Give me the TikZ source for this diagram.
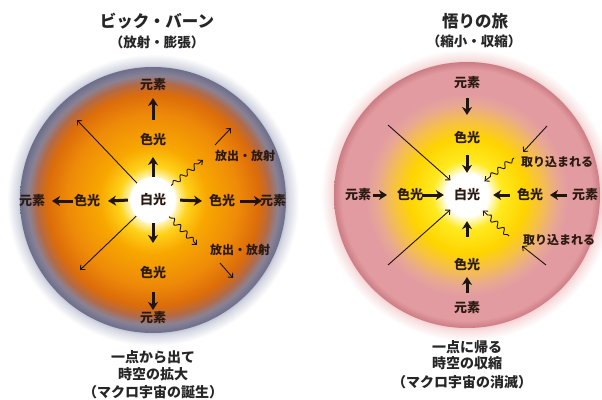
\documentclass[tikz,border=0pt]{standalone}
\usepackage{fontspec}
\usetikzlibrary{arrows.meta,calc,decorations.pathmorphing}
\newfontfamily\jp{Noto Sans CJK JP}
\definecolor{txt}{HTML}{2A1A12}
\definecolor{arrc}{HTML}{1E1410}
\definecolor{lyel}{HTML}{FFF0A0}
\definecolor{yel}{HTML}{FFD21A}
\definecolor{orgA}{HTML}{F8A800}
\definecolor{orgB}{HTML}{EE8A08}
\definecolor{orgC}{HTML}{DC6C0A}
\definecolor{brn}{HTML}{B26A48}
\definecolor{gbl}{HTML}{8A8294}
\definecolor{rimL}{HTML}{6C6E8C}
\definecolor{glowL}{HTML}{A4AAC0}
\definecolor{ryA}{HTML}{FFF8B8}
\definecolor{ryB}{HTML}{FFEA20}
\definecolor{ryC}{HTML}{FFD400}
\definecolor{rorg}{HTML}{F6C048}
\definecolor{rpk}{HTML}{E8A892}
\definecolor{pink}{HTML}{E29CA1}
\definecolor{rimR}{HTML}{CC7C84}
\definecolor{glowR}{HTML}{EEB8B8}
\pgfdeclareradialshading{bbshade}{\pgfpoint{0bp}{0bp}}{%
color(0bp)=(white); color(4bp)=(white); color(4.75bp)=(lyel);
color(6.5bp)=(yel); color(10bp)=(orgA); color(16bp)=(orgB);
color(20bp)=(orgC); color(22bp)=(brn); color(23.5bp)=(gbl); color(25bp)=(rimL); color(50bp)=(rimL)}
\pgfdeclareradialshading{stshade}{\pgfpoint{0bp}{0bp}}{%
color(0bp)=(white); color(4bp)=(white); color(4.75bp)=(ryA);
color(6.5bp)=(ryB); color(11bp)=(ryC); color(14bp)=(rorg);
color(17bp)=(rpk); color(19bp)=(pink); color(23.5bp)=(pink); color(25bp)=(rimR); color(50bp)=(rimR)}
\pgfdeclareradialshading{glowLs}{\pgfpoint{0bp}{0bp}}{%
color(0bp)=(glowL); color(22bp)=(glowL); color(23.2bp)=(glowL!45); color(25bp)=(white); color(50bp)=(white)}
\pgfdeclareradialshading{glowRs}{\pgfpoint{0bp}{0bp}}{%
color(0bp)=(glowR); color(22bp)=(glowR); color(23.2bp)=(glowR!45); color(25bp)=(white); color(50bp)=(white)}
\begin{document}
\begin{tikzpicture}[x=1pt,y=-1pt,
  lab/.style={font=\jp\bfseries\fontsize{13}{13}\selectfont, text=txt, inner sep=0pt},
  slab/.style={font=\jp\bfseries\fontsize{12}{12}\selectfont, text=txt, inner sep=0pt},
  title/.style={font=\jp\bfseries\fontsize{16.5}{16.5}\selectfont, text=black!85, inner sep=0pt},
  subtitle/.style={font=\jp\bfseries\fontsize{13.5}{13.5}\selectfont, text=black!85, inner sep=0pt},
  caption/.style={font=\jp\bfseries\fontsize{14}{14}\selectfont, text=black!85, inner sep=0pt},
  whitec/.style={circle, fill=white, minimum size=44pt, inner sep=0pt, font=\jp\bfseries\fontsize{13}{13}\selectfont, text=txt},
  barrow/.style={draw=arrc, line width=3pt, -{Stealth[length=8pt,width=10pt,inset=2.5pt]}},
  tarrow/.style={draw=arrc, line width=0.9pt, -{Straight Barb[length=3.5pt,width=6.5pt]}},
  warrow/.style={draw=arrc, line width=0.9pt, -{Straight Barb[length=3.5pt,width=6.5pt]},
     decorate, decoration={snake, amplitude=2.5pt, segment length=9pt, pre length=2pt, post length=5pt}}
]
\path[fill=white] (0,0) rectangle (602,399);
\useasboundingbox (0,0) rectangle (602,399);
% discs
\shade[shading=glowLs] (153,200) circle [radius=146pt];
\shade[shading=bbshade] (153,200) circle [radius=133pt];
\shade[shading=glowRs] (467,195) circle [radius=146pt];
\shade[shading=stshade] (467,195) circle [radius=133pt];
% titles
\node[title] (t1) at (157,21) {ビック・バーン};
\node[subtitle] (s1) at (157,42) {（放射・膨張）};
\node[title] (t2) at (475,21) {悟りの旅};
\node[subtitle] (s2) at (474,41) {（縮小・収縮）};
% left picture
\node[whitec, minimum size=46pt] (W1) at (153,200) {白光};
\node[lab] (cu1) at (153,140) {色光};
\node[lab] (eu1) at (153,85) {元素};
\node[lab] (cd1) at (153,273) {色光};
\node[lab] (ed1) at (153,318) {元素};
\node[lab] (cl1) at (87,201) {色光};
\node[lab] (el1) at (32,201) {元素};
\node[lab] (cr1) at (222,201) {色光};
\node[lab] (er1) at (273,201) {元素};
\node[slab] (r1a) at (245,156) {放出・放射};
\node[slab] (r1b) at (240,250) {放出・放射};
\draw[barrow] (W1.north) -- ($(cu1)+(0,17)$);
\draw[barrow] ($(cu1)+(0,-20)$) -- ($(eu1)+(0,13)$);
\draw[barrow] (W1.south) -- ($(cd1)+(0,-30)$);
\draw[barrow] ($(cd1)+(0,19)$) -- ($(ed1)+(0,-8)$);
\draw[barrow, shorten <=2pt] (W1.west) -- ($(cl1)+(21,0)$);
\draw[barrow] ($(cl1)+(-14,0)$) -- ($(el1)+(20,0)$);
\draw[barrow, shorten <=4pt] (W1.east) -- ($(cr1)+(-20,0)$);
\draw[barrow] ($(cr1)+(18,0)$) -- ($(er1)+(-11,0)$);
\coordinate (ul1) at (77,120);
\coordinate (ll1) at (80,270);
\draw[tarrow] (W1) -- (ul1);
\draw[tarrow] (W1) -- (ll1);
\coordinate (wu1) at (203,160);
\coordinate (wd1) at (197,245);
\draw[warrow] (W1) -- (wu1);
\draw[warrow] (W1) -- (wd1);
\draw[tarrow] ($(r1a)+(-30,-11)$) -- ($(r1a)+(-14,-28)$);
\draw[tarrow] ($(r1b)+(-20,13)$) -- ($(r1b)+(-7,28)$);
% captions left
\node[caption] (c1a) at (153,357) {一点から出て};
\node[caption] (c1b) at (153,374) {時空の拡大};
\node[caption] (c1c) at (153,392) {（マクロ宇宙の誕生）};
% right picture
\node[whitec] (W2) at (467,195) {白光};
\node[lab] (cu2) at (467,138) {色光};
\node[lab] (eu2) at (467,83) {元素};
\node[lab] (cd2) at (467,265) {色光};
\node[lab] (ed2) at (467,308) {元素};
\node[lab] (cl2) at (410,195) {色光};
\node[lab] (el2) at (358,195) {元素};
\node[lab] (cr2) at (530,195) {色光};
\node[lab] (er2) at (585,195) {元素};
\node[slab] (r2a) at (557,162) {取り込まれる};
\node[slab] (r2b) at (559,240) {取り込まれる};
\draw[barrow] ($(eu2)+(0,15)$) -- ($(cu2)+(0,-23)$);
\draw[barrow] ($(cu2)+(0,17)$) -- (W2.north);
\draw[barrow, shorten >=4pt] ($(cd2)+(0,-28)$) -- (W2.south);
\draw[barrow] ($(ed2)+(0,-15)$) -- ($(cd2)+(0,12)$);
\draw[barrow] ($(el2)+(15,0)$) -- ($(cl2)+(-23,0)$);
\draw[barrow, shorten >=1pt] ($(cl2)+(12,0)$) -- (W2.west);
\draw[barrow, shorten >=4pt] ($(cr2)+(-20,0)$) -- (W2.east);
\draw[barrow] ($(er2)+(-18,0)$) -- ($(cr2)+(20,0)$);
\coordinate (ul2) at (388,125);
\coordinate (ll2) at (388,265);
\draw[tarrow] (ul2) -- (W2);
\draw[tarrow] (ll2) -- (W2);
\coordinate (wu2) at (514,158);
\coordinate (wd2) at (509,236);
\draw[warrow] (wu2) -- (W2);
\draw[warrow] (wd2) -- (W2);
\draw[tarrow] ($(r2a)+(-10,-36)$) -- ($(r2a)+(-34,-10)$);
\draw[tarrow] ($(r2b)+(-13,25)$) -- ($(r2b)+(-37,6)$);
% captions right
\node[caption] (c2a) at (467,347) {一点に帰る};
\node[caption] (c2b) at (467,363) {時空の収縮};
\node[caption] (c2c) at (462,382) {（マクロ宇宙の消滅）};
\end{tikzpicture}
\end{document}
